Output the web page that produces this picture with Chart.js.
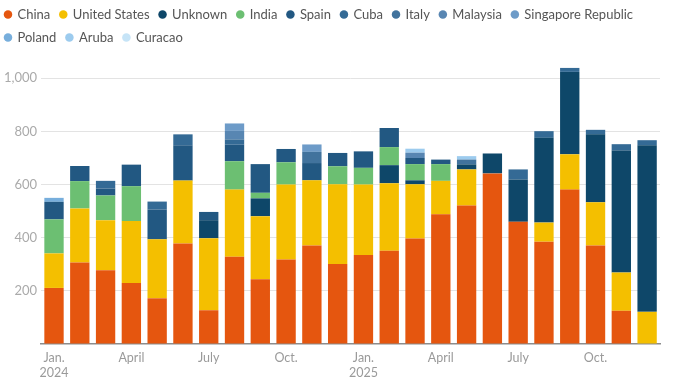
<!DOCTYPE html>
<html>
<head>
<meta charset="utf-8">
<script src="https://cdn.jsdelivr.net/npm/chart.js@4"></script>
<style>
  html, body { margin: 0; padding: 0; background: #fff; }
  #wrap { width: 680px; height: 387px; position: relative; }
</style>
</head>
<body>
<div id="wrap"><canvas id="chart"></canvas></div>
<script>
// months Jan 2024 .. Dec 2025
const months = ['2024-01','2024-02','2024-03','2024-04','2024-05','2024-06','2024-07','2024-08','2024-09','2024-10','2024-11','2024-12',
                '2025-01','2025-02','2025-03','2025-04','2025-05','2025-06','2025-07','2025-08','2025-09','2025-10','2025-11','2025-12'];
// tick labels shown under selected months (index -> label)
const xTickLabels = { 0: ['Jan.', '2024'], 3: 'April', 6: 'July', 9: 'Oct.', 12: ['Jan.', '2025'], 15: 'April', 18: 'July', 21: 'Oct.' };
const yTicks = [0, 200, 400, 600, 800, 1000];

const china     = [211,307,278,230,172,378,127,328,244,318,371,301,335,351,397,488,521,642,460,385,581,371,125,0];
const us        = [130,203,188,233,222,237,271,253,237,282,245,300,265,254,204,126,136,0,0,72,133,162,144,121];
const unknown   = [0,0,0,0,0,0,68,0,67,0,0,0,0,68,15,0,19,75,159,319,310,256,459,627];
const india     = [128,103,93,131,0,0,0,107,21,84,0,68,63,68,61,63,0,0,0,0,0,0,0,0];
const spain     = [66,57,26,81,112,133,31,62,108,50,65,50,62,72,23,17,0,0,0,0,0,0,0,0];
const cuba      = [0,0,29,0,30,41,0,20,0,0,0,0,0,0,0,0,0,0,38,25,15,17,24,19];
const italy     = [0,0,0,0,0,0,0,0,0,0,42,0,0,0,0,0,18,0,0,0,0,0,0,0];
const malaysia  = [0,0,0,0,0,0,0,32,0,0,0,0,0,0,20,0,0,0,0,0,0,0,0,0];
const singapore = [0,0,0,0,0,0,0,28,0,0,28,0,0,0,0,0,0,0,0,0,0,0,0,0];
const poland    = [15,0,0,0,0,0,0,0,0,0,0,0,0,0,0,0,0,0,0,0,0,0,0,0];
const aruba     = [0,0,0,0,0,0,0,0,0,0,0,0,0,0,15,0,13,0,0,0,0,0,0,0];
const curacao   = [0,0,0,0,0,0,0,0,0,0,0,0,0,0,0,0,0,0,0,0,0,0,0,0];

const series = [
  ['China', china, '#e5560f'],
  ['United States', us, '#f4bf00'],
  ['Unknown', unknown, '#0e4769'],
  ['India', india, '#6cbf72'],
  ['Spain', spain, '#225882'],
  ['Cuba', cuba, '#346a95'],
  ['Italy', italy, '#41739d'],
  ['Malaysia', malaysia, '#5886b2'],
  ['Singapore Republic', singapore, '#6d9bc8'],
  ['Poland', poland, '#77aedc'],
  ['Aruba', aruba, '#9ccbee'],
  ['Curacao', curacao, '#c6e4f7']
];

const FONT = 'Lato, "Open Sans", sans-serif';

// nudge the legend: a bit more room under it, and pulled up/left
const legendNudge = {
  id: 'legendNudge',
  beforeInit(chart) {
    const fit = chart.legend.fit;
    chart.legend.fit = function () { fit.call(this); this.height += 9; };
  },
  afterLayout(chart) {
    chart.legend.top -= 2;
    chart.legend.left -= 5;
  }
};

new Chart(document.getElementById('chart'), {
  type: 'bar',
  data: {
    labels: months,
    datasets: series.map(([label, data, color]) => ({
      label, data, backgroundColor: color, borderWidth: 0,
      barPercentage: 0.75, categoryPercentage: 1
    }))
  },
  options: {
    responsive: true,
    maintainAspectRatio: false,
    animation: false,
    layout: { padding: { left: 0, right: 20, top: 0, bottom: 1 } },
    plugins: {
      tooltip: { enabled: false },
      legend: {
        position: 'top',
        align: 'start',
        labels: {
          usePointStyle: true, pointStyle: 'circle',
          boxWidth: 6, boxHeight: 6, padding: 10,
          color: '#555', font: { family: FONT, size: 13 }
        }
      }
    },
    scales: {
      x: {
        stacked: true,
        grid: { display: false, drawTicks: false },
        border: { color: '#8c8c8c', width: 1.5 },
        ticks: {
          autoSkip: false, maxRotation: 0, color: '#9a9a9a', padding: 6,
          font: { family: FONT, size: 12.5 },
          callback: (v, i) => xTickLabels[i] || ''
        }
      },
      y: {
        stacked: true,
        min: 0, max: 1050,
        afterBuildTicks: axis => { axis.ticks = yTicks.map(v => ({ value: v })); },
        border: { display: false },
        grid: { color: ctx => ctx.tick && ctx.tick.value === 0 ? 'rgba(0,0,0,0)' : '#e3e3e3', drawTicks: false },
        ticks: {
          color: '#aaa', padding: 4,
          font: { family: FONT, size: 13 },
          callback: v => v === 0 ? '' : v.toLocaleString('en-US')
        }
      }
    }
  },
  plugins: [legendNudge]
});
</script>
</body>
</html>
